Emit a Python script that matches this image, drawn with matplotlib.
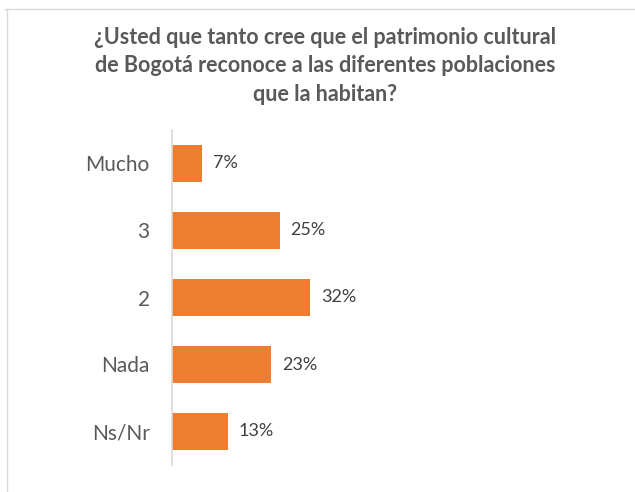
import matplotlib
matplotlib.use("Agg")
import matplotlib.pyplot as plt
from matplotlib.lines import Line2D

categories = ["Mucho", "3", "2", "Nada", "Ns/Nr"]
percent = [7, 25, 32, 23, 13]
title = "¿Usted que tanto cree que el patrimonio cultural\nde Bogotá reconoce a las diferentes poblaciones\nque la habitan?"

plt.rcParams['font.family'] = ['Lato', 'DejaVu Sans']

fig = plt.figure(figsize=(6.35, 4.92), dpi=100)
ax = fig.add_axes([172 / 635, 1 - 465 / 492, 448 / 635, 335 / 492])

y = list(range(len(categories)))
ax.barh(y, percent, height=0.54, color="#ED7D31")
ax.set_ylim(len(categories) - 0.5, -0.5)
ax.set_xlim(0, 448 / 4.3)

ax.set_yticks(y)
ax.set_yticklabels(categories, fontsize=15, color="#595959")
ax.tick_params(axis="y", length=0, pad=16)
ax.set_xticks([])
for side in ["top", "right", "bottom"]:
    ax.spines[side].set_visible(False)
ax.spines["left"].set_color("#D9D9D9")
ax.spines["left"].set_linewidth(1.2)

for yi, v in zip(y, percent):
    ax.annotate(f"{v}%", xy=(v, yi), xytext=(8, 0), textcoords="offset points",
                va="center", ha="left", fontsize=13, color="#404040")

fig.text(325 / 635, 1 - 66 / 492, title, ha="center", va="center",
         fontsize=15.5, fontweight="bold", color="#595959", linespacing=1.45)

# thin frame lines at the top and left of the chart area
fig.add_artist(Line2D([5 / 635, 1], [1 - 9 / 492] * 2, color="#D9D9D9", lw=1))
fig.add_artist(Line2D([7 / 635] * 2, [0, 1 - 9 / 492], color="#D9D9D9", lw=1))

fig.savefig("out.png", dpi=100)
